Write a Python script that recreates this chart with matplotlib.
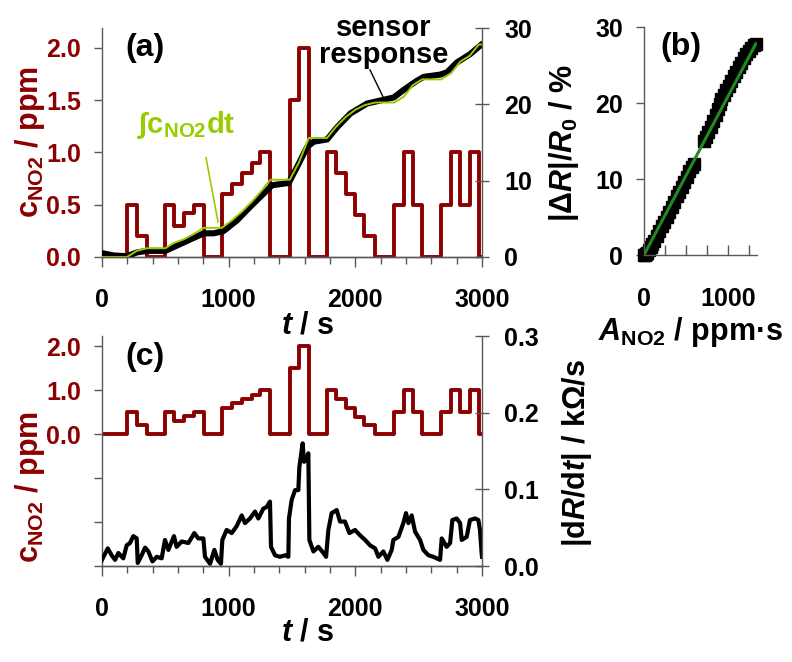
import matplotlib
matplotlib.use('Agg')
import matplotlib.pyplot as plt
import numpy as np
from matplotlib.ticker import MultipleLocator

plt.rcParams['font.family'] = ['Liberation Sans', 'DejaVu Sans']
plt.rcParams['font.weight'] = 'bold'
plt.rcParams['axes.labelweight'] = 'bold'
plt.rcParams['mathtext.fontset'] = 'custom'
plt.rcParams['mathtext.rm'] = 'Liberation Sans:bold'
plt.rcParams['mathtext.it'] = 'Liberation Sans:bold:italic'
plt.rcParams['mathtext.bf'] = 'Liberation Sans:bold'

RED = '#8b0000'
YELLOW_GREEN = '#99cc00'
DARK_GREEN = '#1f8a1f'
SPINE = '0.35'

# NO2 dosing: c_levels[i] holds from step_times[i] until step_times[i + 1]
step_times = [0, 197, 276, 355, 500, 566, 645, 724, 803, 947, 1026, 1105,
              1184, 1250, 1329, 1482, 1553, 1632, 1777, 1850, 1927, 2000,
              2071, 2158, 2308, 2382, 2456, 2527, 2677, 2756, 2829, 2903,
              2974, 3000]
c_levels = [0, 0.5, 0.2, 0, 0.5, 0.3, 0.42, 0.5, 0, 0.6, 0.7, 0.8, 0.9, 1.0,
            0, 1.5, 2.0, 0, 1.0, 0.8, 0.6, 0.4, 0.2, 0, 0.5, 1.0, 0.5, 0,
            0.5, 1.0, 0.5, 1.0, 0, 0]

# scale between integrated dose and sensor response, %/(ppm*s)
sensitivity = 0.0207

# sensor response |dR|/R0 in %
resp_t = [0, 92, 197, 276, 355, 500, 592, 697, 803, 882, 960, 1066, 1171,
          1276, 1342, 1474, 1540, 1619, 1671, 1777, 1856, 1961, 2092, 2224,
          2303, 2382, 2487, 2540, 2671, 2724, 2803, 2908, 3000]
resp_val = [0.5, 0.2, 0.1, 0.6, 0.8, 0.8, 1.5, 2.3, 3.1, 3.1, 3.4, 4.8, 6.6,
            8.3, 9.4, 9.7, 11.8, 14.4, 15.1, 15.4, 17.0, 18.8, 20.1, 20.6,
            20.9, 21.9, 23.1, 23.6, 23.9, 24.2, 25.5, 26.6, 27.9]

# |dR/dt| in kOhm/s
deriv_t = [0, 45, 76, 103, 129, 168, 195, 221, 247, 274, 282, 313, 340, 366,
           398, 432, 471, 497, 524, 568, 589, 629, 682, 729, 760, 800, 813,
           853, 887, 913, 939, 950, 984, 1024, 1063, 1103, 1129, 1168, 1208,
           1234, 1274, 1300, 1326, 1334, 1366, 1405, 1445, 1471, 1476, 1497,
           1524, 1550, 1558, 1584, 1595, 1611, 1629, 1637, 1669, 1708, 1748,
           1769, 1787, 1813, 1853, 1879, 1918, 1953, 1998, 2037, 2077, 2116,
           2156, 2182, 2221, 2253, 2287, 2300, 2340, 2379, 2400, 2419, 2445,
           2471, 2511, 2537, 2577, 2616, 2669, 2682, 2721, 2748, 2766, 2800,
           2827, 2840, 2879, 2905, 2945, 2971, 2984, 2997, 3000]
deriv_val = [0.008, 0.023, 0.014, 0.008, 0.017, 0.010, 0.027, 0.030, 0.039,
             0.036, 0.004, 0.014, 0.024, 0.019, 0.006, 0.012, 0.010, 0.034,
             0.021, 0.039, 0.025, 0.032, 0.030, 0.043, 0.036, 0.036, 0.012,
             0.003, 0.021, 0.008, 0.003, 0.034, 0.047, 0.043, 0.052, 0.066,
             0.056, 0.062, 0.071, 0.062, 0.075, 0.077, 0.084, 0.025, 0.014,
             0.012, 0.014, 0.012, 0.062, 0.086, 0.099, 0.099, 0.129, 0.160,
             0.136, 0.138, 0.147, 0.034, 0.019, 0.025, 0.017, 0.012, 0.047,
             0.069, 0.073, 0.058, 0.058, 0.043, 0.047, 0.040, 0.034, 0.027,
             0.023, 0.012, 0.019, 0.008, 0.021, 0.034, 0.038, 0.056, 0.069,
             0.056, 0.066, 0.045, 0.034, 0.021, 0.014, 0.012, 0.008, 0.036,
             0.025, 0.030, 0.060, 0.062, 0.056, 0.034, 0.038, 0.060, 0.062,
             0.060, 0.047, 0.017, 0.012]

# panel (b): response against integrated dose A_NO2
area_ppms = [0, 10, 25, 40, 60, 80, 100, 125, 150, 180, 210, 240, 270, 300,
             330, 360, 390, 420, 450, 480, 510, 540, 570, 600, 720, 745, 770,
             800, 830, 860, 885, 905, 925, 950, 980, 1010, 1040, 1070, 1100,
             1130, 1160, 1190, 1220, 1250, 1280, 1310, 1336]
dr_pct = [0, 0.0, 0.1, 0.3, 0.6, 1.0, 1.4, 1.9, 2.5, 3.1, 3.8, 4.4, 5.0, 5.7,
          6.3, 7.0, 7.7, 8.3, 9.0, 9.6, 10.3, 11.0, 11.6, 12.0, 15.0, 15.5,
          16.2, 16.9, 17.6, 18.4, 19.2, 19.9, 20.5, 21.0, 21.7, 22.3, 22.9,
          23.5, 24.1, 24.7, 25.3, 25.9, 26.4, 26.9, 27.3, 27.6, 27.8]
fit_area = [0, 1336]
fit_dr = [0, 27.8]


def _style_spines(ax, hidden):
    for name, spine in ax.spines.items():
        spine.set_visible(name not in hidden)
        spine.set_color(SPINE)
        spine.set_linewidth(1.0)


def _time_axis(ax):
    ax.set_xlim(0, 3000)
    ax.xaxis.set_major_locator(MultipleLocator(1000))
    ax.xaxis.set_minor_locator(MultipleLocator(200))
    ax.tick_params(axis='x', which='major', direction='out', length=7,
                   width=1, color=SPINE, labelsize=18, pad=15)
    ax.tick_params(axis='x', which='minor', direction='out', length=5,
                   width=1, color=SPINE)
    ax.set_xlabel('$\\mathit{t}$ / s', fontsize=22, va='center')
    ax.xaxis.set_label_coords(0.54, -0.30)


def _plot_panel_a(fig):
    ax = fig.add_axes([0.1288, 0.6118, 0.4798, 0.3459])
    ax.plot(step_times, c_levels, drawstyle='steps-post', color=RED, lw=2.8)
    ax.set_ylim(0, 2.19)
    ax.set_yticks([0, 0.5, 1.0, 1.5, 2.0])
    ax.yaxis.set_major_formatter('{x:.1f}')
    ax.tick_params(axis='y', direction='out', length=6, width=1, color=SPINE,
                   labelcolor=RED, labelsize=18, pad=9)
    ax.set_ylabel('$\\mathrm{c}_{\\mathrm{NO2}}$ / ppm', color=RED,
                  fontsize=22, va='center')
    ax.yaxis.set_label_coords(-0.19, 0.5)
    _time_axis(ax)
    _style_spines(ax, ('top', 'right'))

    ax2 = ax.twinx()
    dose = np.concatenate([[0], np.cumsum(np.diff(step_times)
                                          * np.array(c_levels[:-1]))])
    ax2.plot(resp_t, resp_val, color='black', lw=4.4, solid_capstyle='round')
    ax2.plot(step_times, dose * sensitivity, color=YELLOW_GREEN, lw=1.4)
    ax2.set_ylim(0, 30)
    ax2.set_yticks([0, 10, 20, 30])
    ax2.tick_params(axis='y', direction='inout', length=10, width=1,
                    color=SPINE, labelsize=18, pad=11)
    ax2.set_ylabel('$|\\mathit{\\Delta R}|/\\mathit{R_0}$ / %', fontsize=22,
                   va='center', rotation=90)
    ax2.yaxis.set_label_coords(1.215, 0.5)
    _style_spines(ax2, ('top', 'left'))

    ax.text(0.113, 0.913, '(a)', transform=ax.transAxes, fontsize=23,
            ha='center', va='center')
    ax2.text(2226, 28.2, 'sensor\nresponse', fontsize=21, ha='center',
             va='center', linespacing=0.95, clip_on=False)
    ax2.plot([2116, 2218], [24.5, 21.0], color='black', lw=1.0)
    ax2.text(276, 16.2, '\u222bc$_{\\mathrm{NO2}}$dt', color=YELLOW_GREEN,
             fontsize=21, ha='left', va='baseline')
    ax2.plot([821, 916], [13.0, 4.6], color=YELLOW_GREEN, lw=1.2)


def _plot_panel_b(fig):
    ax = fig.add_axes([0.8131, 0.6148, 0.1427, 0.3444])
    ax.plot(area_ppms, dr_pct, 's', color='black', ms=9, clip_on=False)
    ax.plot(fit_area, fit_dr, color=DARK_GREEN, lw=2.2)
    ax.set_xlim(0, 1350)
    ax.set_ylim(0, 30)
    ax.set_xticks([0, 1000])
    ax.xaxis.set_minor_locator(MultipleLocator(250))
    ax.set_yticks([0, 10, 20, 30])
    ax.tick_params(axis='x', which='both', direction='in', length=7, width=1,
                   color=SPINE, labelsize=18, pad=23)
    ax.tick_params(axis='y', direction='out', length=6, width=1, color=SPINE,
                   labelsize=18, pad=9)
    ax.set_xlabel('$\\mathit{A}_{\\mathrm{NO2}}$ / ppm\u00b7s', fontsize=22,
                  va='center')
    ax.xaxis.set_label_coords(0.41, -0.338)
    _style_spines(ax, ('top', 'right'))
    ax.text(0.327, 0.912, '(b)', transform=ax.transAxes, fontsize=23,
            ha='center', va='center')


def _plot_panel_c(fig):
    ax = fig.add_axes([0.1288, 0.1450, 0.4798, 0.3474])
    ax.plot(step_times, c_levels, drawstyle='steps-post', color=RED, lw=2.8)
    ax.set_ylim(-3, 2.23)
    ax.set_yticks([-3, -2, -1, 0, 1, 2])
    ax.set_yticklabels(['', '', '', '0.0', '1.0', '2.0'])
    ax.tick_params(axis='y', direction='out', length=6, width=1, color=SPINE,
                   labelcolor=RED, labelsize=18, pad=9)
    ax.set_ylabel('$\\mathrm{c}_{\\mathrm{NO2}}$ / ppm', color=RED,
                  fontsize=22, va='center')
    ax.yaxis.set_label_coords(-0.19, 0.343)
    _time_axis(ax)
    ax.xaxis.set_label_coords(0.54, -0.29)
    _style_spines(ax, ('top', 'right'))

    ax2 = ax.twinx()
    ax2.plot(deriv_t, deriv_val, color='black', lw=3.0)
    ax2.set_ylim(0, 0.3)
    ax2.set_yticks([0, 0.1, 0.2, 0.3])
    ax2.yaxis.set_major_formatter('{x:.1f}')
    ax2.tick_params(axis='y', direction='inout', length=10, width=1,
                    color=SPINE, labelsize=18, pad=11)
    ax2.set_ylabel('|d$\\mathit{R}$/d$\\mathit{t}$| / k\u03a9/s', fontsize=22,
                   va='center', rotation=90)
    ax2.yaxis.set_label_coords(1.25, 0.49)
    _style_spines(ax2, ('top', 'left'))

    ax.text(0.113, 0.909, '(c)', transform=ax.transAxes, fontsize=23,
            ha='center', va='center')


def main():
    fig = plt.figure(figsize=(7.92, 6.62), dpi=100)
    _plot_panel_a(fig)
    _plot_panel_b(fig)
    _plot_panel_c(fig)
    fig.savefig('out.png', dpi=100)


if __name__ == '__main__':
    main()
